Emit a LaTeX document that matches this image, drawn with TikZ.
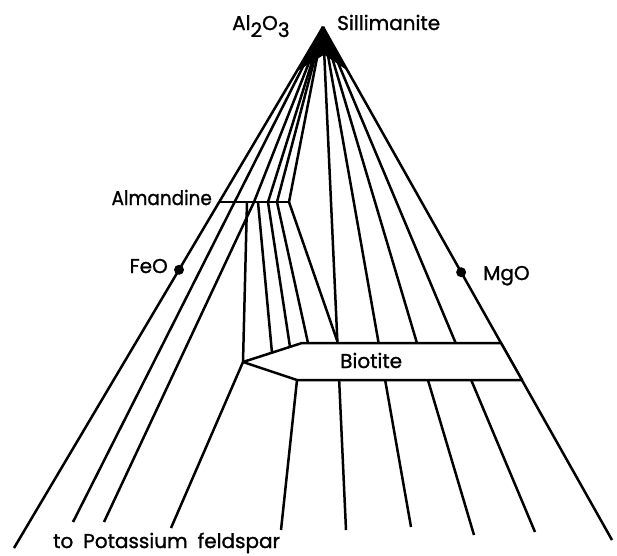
\documentclass[tikz,border=0pt]{standalone}
\usepackage{fontspec}
\setmainfont{Poppins}[FakeBold=1.2]
\usetikzlibrary{calc}
\begin{document}
\begin{tikzpicture}[x=1pt,y=-1pt,
  tie/.style={line width=2.5pt,line join=round},
  lbl/.style={inner sep=0pt,font=\fontsize{20}{24}\selectfont},
  phase/.style={circle,fill,inner sep=0pt,minimum size=10pt}]
              \useasboundingbox(0,0)rectangle(617,555);
              \coordinate(sil)at(323,27);
              \coordinate(f1)at(14,548);
              \coordinate(f2)at(73,522);
              \coordinate(f3)at(104,522);
              \coordinate(f4)at(171,528);
              \coordinate(f5)at(281,530);
              \coordinate(f6)at(346,530);
              \coordinate(f7)at(411,527);
              \coordinate(f8)at(474,535);
              \coordinate(f9)at(535,532);
              \coordinate(f10)at(612,540);
              \coordinate(g1)at(220,202);
              \coordinate(g2)at(235,202);
              \coordinate(g3)at(247,202);
              \coordinate(g4)at(254,202);
              \coordinate(g5)at(258,202);
              \coordinate(g6)at(268,202);
              \coordinate(g7)at(277,202);
              \coordinate(g8)at(289,202);
              \coordinate(tip)at(243,362);
              \coordinate(tl)at(302,343);
              \coordinate(tr)at(501,343);
              \coordinate(br)at(522,380);
              \coordinate(bl)at(297,380);
              \coordinate(s1)at(272,353);
              \coordinate(s2)at(290,347);
              \coordinate(s3)at(308,343);
              \coordinate(v)at($(sil)!(tl)!(f6)$);
              \fill(sil)--($(sil)!0.085!(f1)$)--($(sil)!0.055!(f6)$)--($(sil)!0.085!(f10)$)--cycle;
              \foreach \e in {f1,f2,g4,g6,g7,g8,f6,f7,f8,f9,f10}
                \draw[tie](sil)--(\e);
              \draw[tie](g1)--(g8);
              \draw[tie](g3)--(tip);
              \draw[tie](g4)--(f3);
              \draw[tie](g5)--(s1);
              \draw[tie](g6)--(s2);
              \draw[tie](g7)--(s3);
              \draw[tie](g8)--(v);
              \draw[tie,fill=white](tip)--(tl)--(tr)--(br)--(bl)--cycle;
              \draw[tie](tip)--(f4);
              \draw[tie](bl)--(f5);
              \node[phase](feo)at($(sil)!0.466!(f1)$){};
              \node[phase](mgo)at($(sil)!0.478!(f10)$){};
              \node[lbl,anchor=base west](al)at(232,30){Al\lower7pt\hbox{2}O\lower7pt\hbox{3}};
              \node[lbl,anchor=base west](sill)at(337,30){Sillimanite};
              \node[lbl,anchor=base east,xscale=0.92](alm)at(212,205){Almandine};
              \node[lbl,anchor=base east](fe)at(168,273){FeO};
              \node[lbl,anchor=base west](mg)at(483,280){MgO};
              \node[lbl,anchor=base west](bio)at(340,368){Biotite};
              \node[lbl,anchor=base west](kfs)at(53,548){\spaceskip=10pt to Potassium feldspar};
\end{tikzpicture}
\end{document}
